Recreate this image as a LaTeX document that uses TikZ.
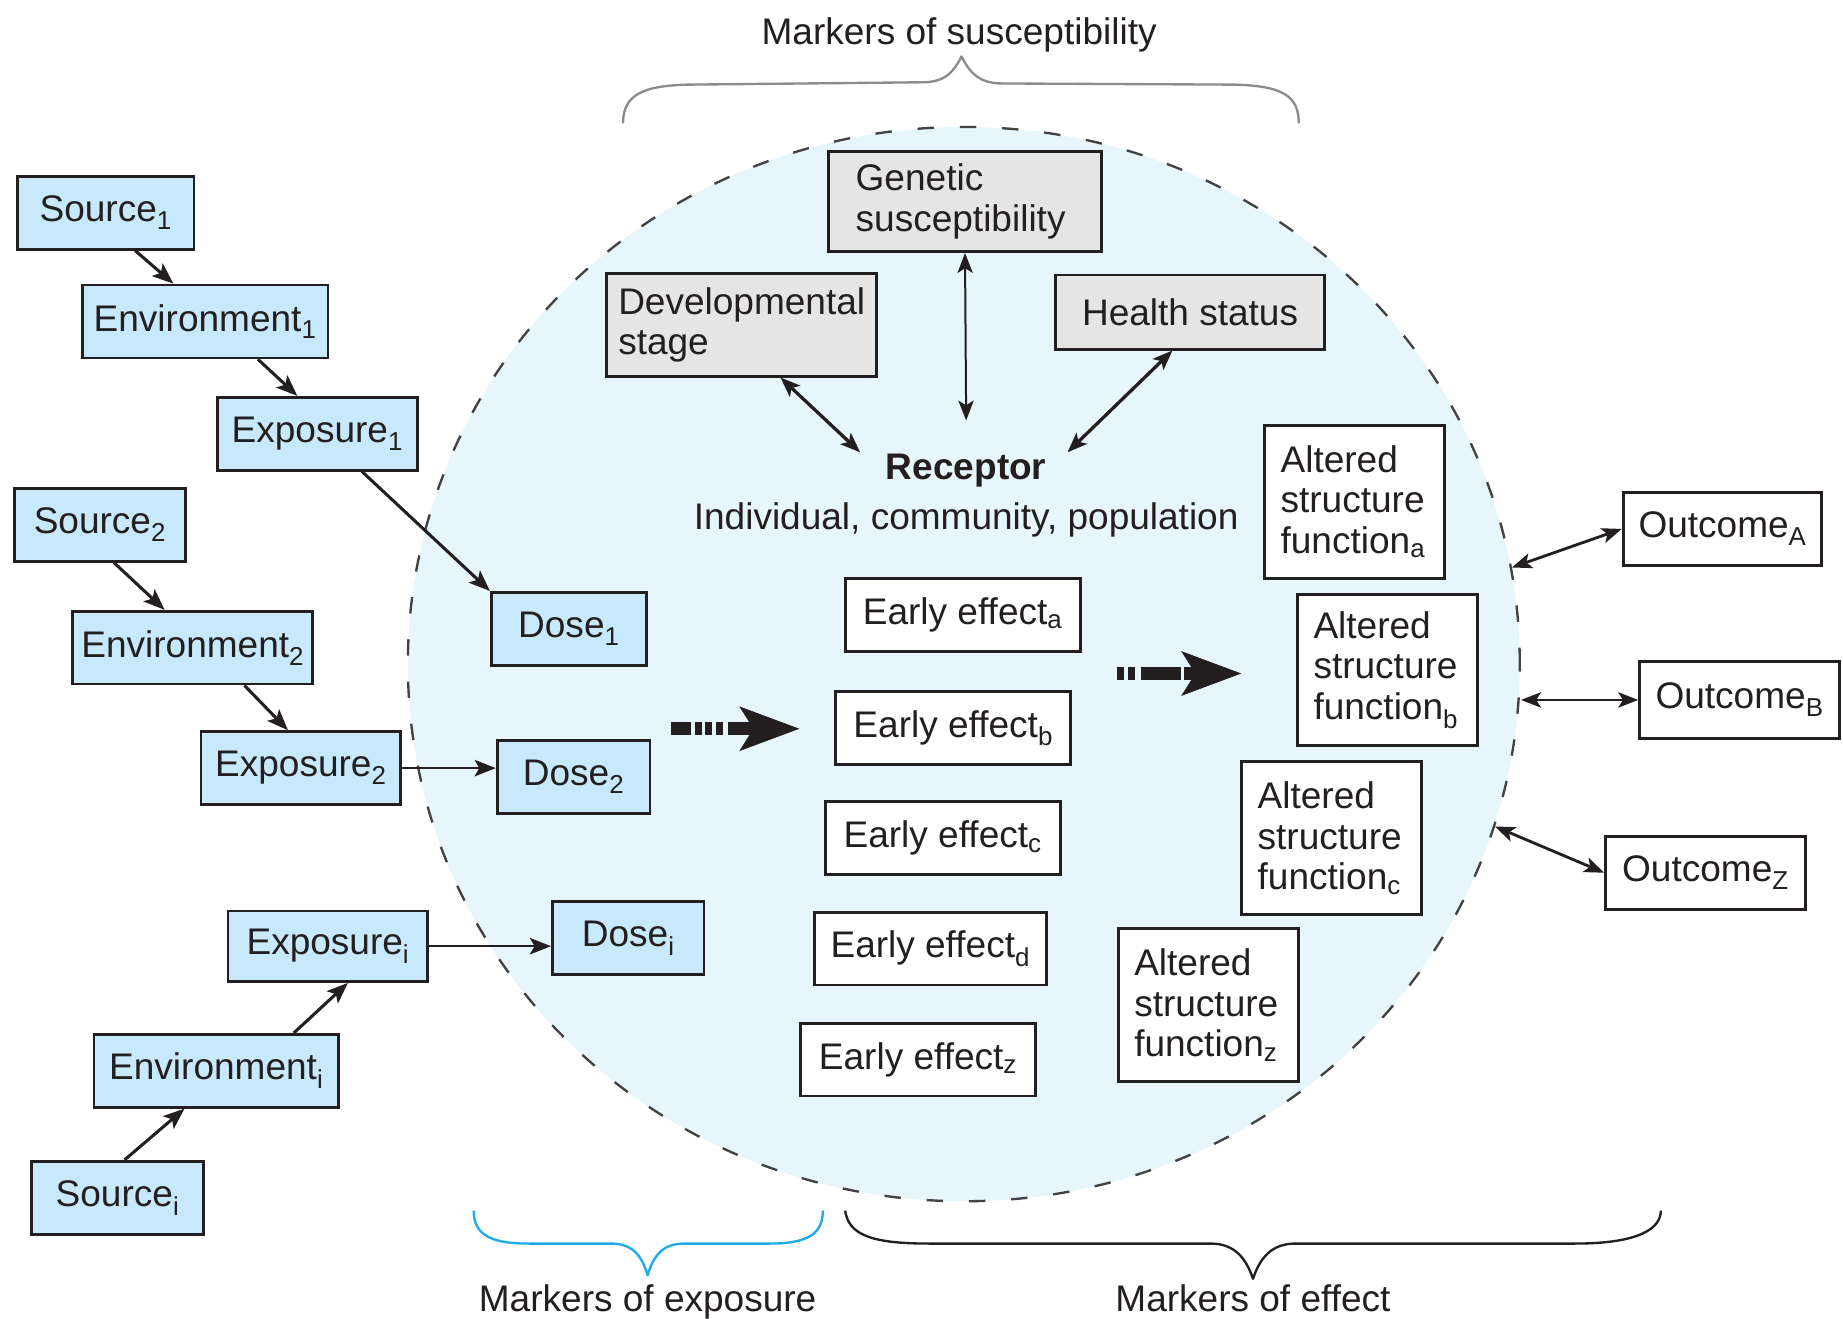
\documentclass[tikz,border=0pt]{standalone}
\usepackage{fontspec}
\setmainfont{Liberation Sans}
\usepackage{tikz}
\usetikzlibrary{arrows.meta,positioning,shapes.geometric}

\definecolor{boxblue}{HTML}{C7E9FB}
\definecolor{zoneblue}{HTML}{E7F5FD}
\definecolor{boxgrey}{HTML}{E5E5E5}
\definecolor{bracegrey}{HTML}{8C8C8C}
\definecolor{braceblue}{HTML}{20AAE8}
\definecolor{ink}{HTML}{231F20}

\newcommand{\lbl}{\fontsize{31.5pt}{34.5pt}\selectfont}

\begin{document}
\begin{tikzpicture}[x=1pt,y=-1pt,
  box/.style={draw=ink, line width=2.4pt, inner sep=0pt, minimum height=62pt, text=ink, font=\lbl},
  src/.style={box, fill=boxblue},
  susc/.style={box, fill=boxgrey, align=left},
  eff/.style={box, fill=white, minimum width=200pt},
  alt/.style={box, fill=white, align=left, text width=126pt, minimum width=153pt, minimum height=130pt},
  outbox/.style={box, fill=white, minimum width=170pt},
  marker/.style={font=\lbl, text=ink, anchor=base},
  link/.style={draw=ink, line width=2.6pt, -{Stealth[length=18pt,width=14pt,inset=4pt]}},
  twoway/.style={draw=ink, line width=2.4pt, {Stealth[length=17pt,width=13pt,inset=4pt]}-{Stealth[length=17pt,width=13pt,inset=4pt]}},
  flow/.style={draw=ink, line width=11pt, -{Stealth[length=51pt,width=38pt,inset=12pt,line width=0.5pt]}},
  brace/.style={line width=2pt, line join=round}]
  \useasboundingbox (0,0) rectangle (1568,1122);

  \node[ellipse, draw=ink!85, fill=zoneblue, line width=2pt, dash pattern=on 14pt off 22pt,
        minimum width=946pt, minimum height=914pt, inner sep=0pt] (zone) at (820,565) {};

  \draw[brace, bracegrey] (530,105) .. controls (530,80) and (548,73) .. (585,72) -- (785,70)
    .. controls (805,70) and (812,60) .. (818,48) .. controls (824,60) and (832,71) .. (852,71)
    -- (1050,72) .. controls (1092,73) and (1105,82) .. (1105,105);
  \draw[brace, braceblue] (403,1030) .. controls (403,1052) and (420,1058) .. (450,1058) -- (520,1058)
    .. controls (538,1058) and (546,1068) .. (551,1085) .. controls (556,1068) and (564,1058) .. (582,1058)
    -- (655,1058) .. controls (690,1058) and (700,1048) .. (700,1030);
  \draw[brace, ink] (719,1030) .. controls (722,1050) and (740,1058) .. (790,1058) -- (1030,1058)
    .. controls (1050,1058) and (1060,1070) .. (1066,1088) .. controls (1072,1070) and (1082,1058) .. (1102,1058)
    -- (1340,1058) .. controls (1395,1058) and (1413,1045) .. (1413,1030);

  \node[marker] (suscmark) at (816,38) {Markers of susceptibility};
  \node[marker] (expmark) at (551,1116) {Markers of exposure};
  \node[marker] (effmark) at (1066,1116) {Markers of effect};

  \node[src, minimum width=150pt] (src1) at (90,181) {Source\textsubscript{1}};
  \node[src, minimum width=209pt] (env1) at (174.5,273.5) {Environment\textsubscript{1}};
  \node[src, minimum width=170pt] (exp1) at (270,369) {Exposure\textsubscript{1}};
  \node[src, minimum width=146pt] (src2) at (85,446.5) {Source\textsubscript{2}};
  \node[src, minimum width=204pt] (env2) at (164,551) {Environment\textsubscript{2}};
  \node[src, minimum width=170pt] (exp2) at (256,653.5) {Exposure\textsubscript{2}};
  \node[src, minimum width=132pt] (dose1) at (484,535) {Dose\textsubscript{1}};
  \node[src, minimum width=130pt] (dose2) at (488,661) {Dose\textsubscript{2}};
  \node[src, minimum width=170pt, minimum height=60pt] (expi) at (279,805) {Exposure\textsubscript{i}};
  \node[src, minimum width=129pt] (dosei) at (534.5,798) {Dose\textsubscript{i}};
  \node[src, minimum width=208pt] (envi) at (184,911) {Environment\textsubscript{i}};
  \node[src, minimum width=146pt] (srci) at (100,1019) {Source\textsubscript{i}};

  \node[susc, text width=186pt, minimum width=232pt, minimum height=85pt] (gen) at (821,171.5) {Genetic\\susceptibility};
  \node[susc, text width=210pt, minimum width=230pt, minimum height=87pt] (dev) at (631,276.5) {Developmental\\stage};
  \node[susc, minimum width=229pt, minimum height=63pt] (health) at (1012.5,265.5) {Health status};

  \node[font=\lbl\bfseries, text=ink, minimum width=176pt, minimum height=30pt, inner sep=0pt] (receptor) at (822,400) {Receptor};
  \node[font=\lbl, text=ink, below=9pt of receptor] (receptorsub) {Individual, community, population};

  \node[eff] (effa) at (819,523) {Early effect\textsubscript{a}};
  \node[eff] (effb) at (811,619.5) {Early effect\textsubscript{b}};
  \node[eff] (effc) at (802,713) {Early effect\textsubscript{c}};
  \node[eff, minimum width=197pt] (effd) at (791.5,807) {Early effect\textsubscript{d}};
  \node[eff] (effz) at (781,901.5) {Early effect\textsubscript{z}};

  \node[alt] (alta) at (1152.5,427) {Altered\\structure\\function\textsubscript{a}};
  \node[alt, minimum height=128pt] (altb) at (1180.5,570) {Altered\\structure\\function\textsubscript{b}};
  \node[alt] (altc) at (1133,713) {Altered\\structure\\function\textsubscript{c}};
  \node[alt] (altz) at (1028,855) {Altered\\structure\\function\textsubscript{z}};

  \node[outbox, minimum width=169pt] (outA) at (1465.5,450) {Outcome\textsubscript{A}};
  \node[outbox, minimum height=65pt] (outB) at (1480,595.5) {Outcome\textsubscript{B}};
  \node[outbox] (outZ) at (1451,742.5) {Outcome\textsubscript{Z}};

  \draw[link] ([xshift=25pt]src1.south) -- ([xshift=-27pt]env1.north);
  \draw[link] ([xshift=45pt]env1.south) -- ([xshift=-17pt]exp1.north);
  \draw[link] ([xshift=38pt]exp1.south) -- (dose1.north west);
  \draw[link] ([xshift=12pt]src2.south) -- ([xshift=-24pt]env2.north);
  \draw[link] ([xshift=44pt]env2.south) -- ([xshift=-11pt]exp2.north);
  \draw[link, line width=1.9pt] (exp2.east) -- (exp2.east -| dose2.west);
  \draw[link, line width=1.9pt] (expi.east) -- (expi.east -| dosei.west);
  \draw[link] ([xshift=6pt]srci.north) -- ([xshift=-27pt]envi.south);
  \draw[link] ([xshift=66pt]envi.north) -- ([xshift=17pt]expi.south);

  \draw[twoway, line width=1.7pt] (gen.south) -- ([yshift=27pt]receptor.north);
  \draw[twoway, line width=2.8pt] ([xshift=33pt]dev.south) -- ([xshift=-2pt]receptor.north west);
  \draw[twoway, line width=2.8pt] ([xshift=-15pt]health.south) -- ([xshift=-2pt]receptor.north east);

  \draw[twoway] (outA.west) -- (zone.10);
  \draw[twoway] (outB.west) -- (outB.west -| zone.east);
  \draw[twoway] (outZ.west) -- (zone.-17.6);

  \coordinate (doseflow) at (571,620);
  \coordinate (doseflowend) at (680,620);
  \coordinate (effflow) at (950,573);
  \coordinate (effflowend) at (1056,573);
  \draw[flow, dash pattern=on 17pt off 3.5pt on 6pt off 2.5pt on 6pt off 3.5pt on 6pt off 3.5pt on 80pt] (doseflow) -- (doseflowend);
  \draw[flow, dash pattern=on 6pt off 4pt on 6pt off 4.5pt on 34pt off 3pt on 80pt] (effflow) -- (effflowend);
\end{tikzpicture}
\end{document}
